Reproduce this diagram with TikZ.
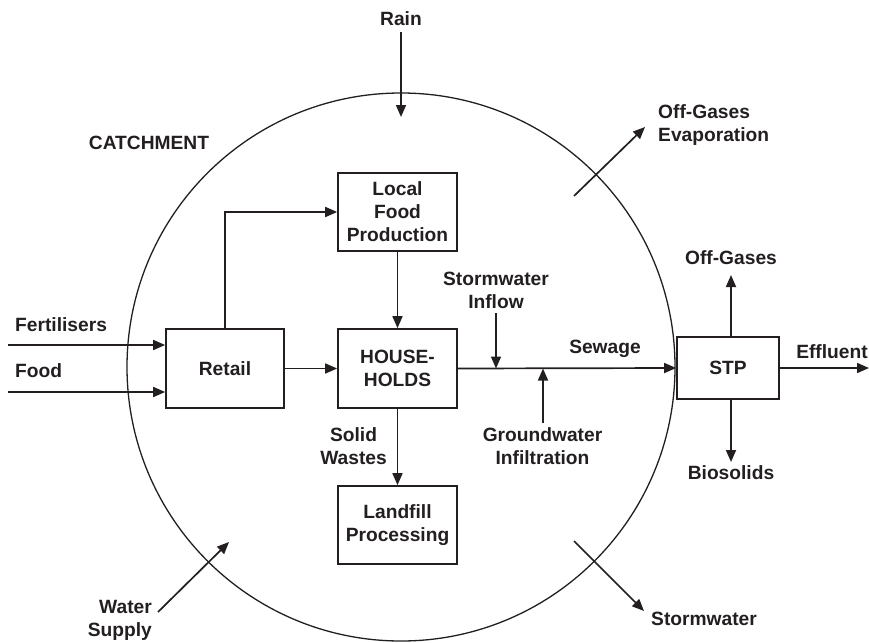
\documentclass[tikz,border=0pt]{standalone}
\usepackage{fontspec}
\setmainfont{Liberation Sans}
\usetikzlibrary{arrows.meta}
\definecolor{ink}{HTML}{231F20}
\begin{document}
\begin{tikzpicture}[x=1pt,y=-1pt,
  every node/.style={font=\bfseries\fontsize{19.2}{23}\selectfont, text=ink},
  procbox/.style={draw=ink, line width=1.7pt, rectangle, align=center, inner sep=0pt},
  lbl/.style={inner sep=0pt, align=center},
  flow/.style={draw=ink, line width=1.7pt, -{Triangle[length=12pt,width=10pt]}}]
\useasboundingbox (0,0) rectangle (869,642);

% catchment boundary
\draw[ink, line width=1.3pt] (401,367) circle[radius=274pt];
\node[lbl] (catch) at (149,143) {CATCHMENT};

% process boxes
\node[procbox, minimum width=118pt, minimum height=79pt] (retail) at (225,368.5) {Retail};
\node[procbox, minimum width=119pt, minimum height=78pt] (lfp) at (397.5,212) {Local\\Food\\Production};
\node[procbox, minimum width=119pt, minimum height=79pt] (hh) at (397.5,368.5) {HOUSE-\\HOLDS};
\node[procbox, minimum width=119pt, minimum height=78pt] (land) at (397.5,525) {Landfill\\Processing};
\node[procbox, minimum width=102pt, minimum height=62pt] (stp) at (728,368) {STP};

% external inputs
\coordinate (fertIn) at (8,345);
\coordinate (foodIn) at (8,392);
\node[lbl, anchor=west] (fertL) at (15,325) {Fertilisers};
\node[lbl, anchor=west] (foodL) at (15,371) {Food};
\draw[flow] (fertIn) -- (fertIn -| retail.west);
\draw[flow] (foodIn) -- (foodIn -| retail.west);

% internal flows
\draw[flow] (retail.north) |- (lfp.west);
\draw[flow] (retail) -- (hh);
\draw[flow] (lfp) -- (hh);
\draw[flow] (hh) -- (land);
\node[lbl, anchor=east] (solidL) at (387,446) {Solid\\Wastes};
\draw[flow] (hh.east) -- (stp.west);
\node[lbl] (sewL) at (605,349) {Sewage};

% inflow and infiltration into the sewer
\coordinate (swIn) at (496,313);
\node[lbl] (swInL) at (496,290) {Stormwater\\Inflow};
\draw[flow] (swIn) -- (swIn |- hh.east);
\coordinate (gwIn) at (543,423);
\node[lbl] (gwL) at (542.5,446) {Groundwater\\Infiltration};
\draw[flow] (gwIn) -- (gwIn |- hh.east);

% treatment plant outputs
\coordinate (ogTip) at (731,275);
\node[lbl] (ogL) at (731,258) {Off-Gases};
\draw[flow] (ogTip |- stp.north) -- (ogTip);
\coordinate (bsTip) at (731,462);
\node[lbl] (bsL) at (731,473) {Biosolids};
\draw[flow] (bsTip |- stp.south) -- (bsTip);
\coordinate (effTip) at (869,368);
\node[lbl] (effL) at (832,352) {Effluent};
\draw[flow] (stp.east) -- (effTip);

% exchanges across the catchment boundary
\node[lbl] (rainL) at (401,19) {Rain};
\coordinate (rainA) at (401,32);
\coordinate (rainB) at (401,117);
\draw[flow] (rainA) -- (rainB);

\coordinate (evA) at (574,196);
\coordinate (evB) at (645,127);
\draw[flow] (evA) -- (evB);
\node[lbl, anchor=west, align=left] (evL) at (658,125) {Off-Gases\\Evaporation};

\coordinate (wsA) at (158,612);
\coordinate (wsB) at (229,542);
\draw[flow] (wsA) -- (wsB);
\node[lbl, anchor=east, align=right] (wsL) at (152,620) {Water\\Supply};

\coordinate (swA) at (574,541);
\coordinate (swB) at (644,611);
\draw[flow] (swA) -- (swB);
\node[lbl, anchor=west] (swL) at (651,619) {Stormwater};
\end{tikzpicture}
\end{document}
